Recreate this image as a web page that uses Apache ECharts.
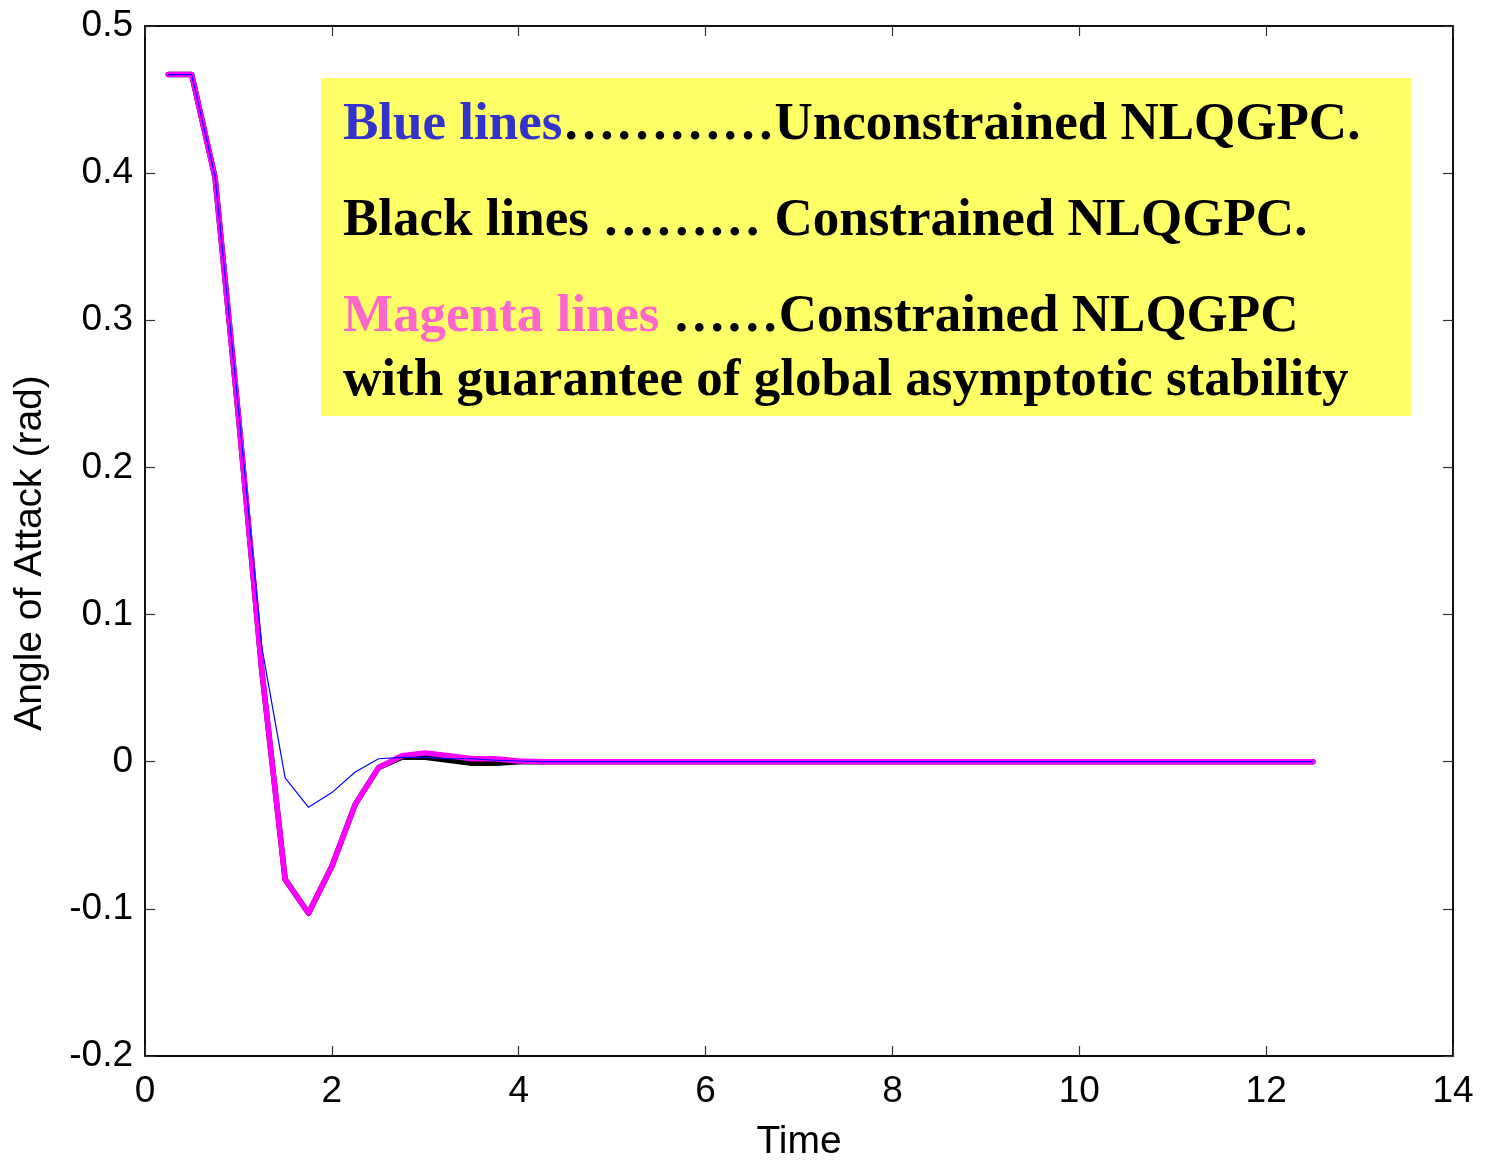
<!DOCTYPE html>
<html>
<head>
<meta charset="utf-8">
<script src="https://cdn.jsdelivr.net/npm/echarts@6/dist/echarts.min.js"></script>
<style>html,body{margin:0;padding:0;background:#fff}#c{width:1489px;height:1162px}</style>
</head>
<body>
<div id="c"></div>
<script>
var time = [0.25,0.5,0.75,1.0,1.25,1.5,1.75,2.0,2.25,2.5,2.75,3.0,3.25,3.5,3.75,4.0,
  4.25,4.5,4.75,5.0,5.25,5.5,5.75,6.0,6.25,6.5,6.75,7.0,7.25,7.5,7.75,8.0,
  8.25,8.5,8.75,9.0,9.25,9.5,9.75,10.0,10.25,10.5,10.75,11.0,11.25,11.5,11.75,12.0,12.25,12.5];
var blueUnconstrained = [0.467,0.467,0.398,0.240,0.078,-0.011,-0.031,-0.021,-0.007,0.002,0.003,0.003,0.002,0.002,0.001,0.0005,
  0,0,0,0,0,0,0,0,0,0,0,0,0,0,0,0,0,0,0,0,0,0,0,0,0,0,0,0,0,0,0,0,0,0];
var blackConstrained = [0.467,0.467,0.397,0.235,0.062,-0.080,-0.103,-0.071,-0.029,-0.004,0.003,0.003,0.001,-0.001,-0.001,0.0,
  0,0,0,0,0,0,0,0,0,0,0,0,0,0,0,0,0,0,0,0,0,0,0,0,0,0,0,0,0,0,0,0,0,0];
var magentaStable = [0.467,0.467,0.397,0.235,0.062,-0.080,-0.103,-0.071,-0.029,-0.004,0.004,0.006,0.004,0.002,0.002,0.0005,
  0,0,0,0,0,0,0,0,0,0,0,0,0,0,0,0,0,0,0,0,0,0,0,0,0,0,0,0,0,0,0,0,0,0];
var xTicks = {min:0, max:14, interval:2};
var yTicks = {min:-0.2, max:0.5, interval:0.1};

function pairs(v){ return time.map(function(t,i){ return [t, v[i]]; }); }

var chart = echarts.init(document.getElementById('c'), null, {renderer:'canvas'});
var axisFont = {fontFamily:'Liberation Sans, Arial, sans-serif', fontSize:37, color:'#000'};
var nameFont = {fontFamily:'Liberation Sans, Arial, sans-serif', fontSize:39, color:'#000'};
var lineC = {onZero:false, lineStyle:{color:'#000', width:1.5}};
var tickC = {inside:true, length:10, lineStyle:{color:'#333', width:1.2}};
var serif = 'Liberation Serif, Times New Roman, serif';
var FS = 53;
function rs(c){ return {fontFamily:serif, fontWeight:'bold', fontSize:FS, fill:c, color:c}; }
chart.setOption({
  animation:false,
  backgroundColor:'#fff',
  grid:{left:145, right:36, top:26, bottom:106, show:true, borderColor:'#000', borderWidth:1.5,
        containLabel:false, outerBoundsMode:'none'},
  xAxis:[{
    type:'value', min:xTicks.min, max:xTicks.max, interval:xTicks.interval,
    name:'Time', nameLocation:'middle', nameGap:67,
    nameTextStyle:nameFont,
    axisLine:lineC, axisTick:tickC, splitLine:{show:false},
    axisLabel:Object.assign({margin:17}, axisFont)
  },{
    type:'value', position:'top', min:xTicks.min, max:xTicks.max, interval:xTicks.interval,
    axisLine:lineC, axisTick:tickC, splitLine:{show:false}, axisLabel:{show:false}
  }],
  yAxis:[{
    type:'value', min:yTicks.min, max:yTicks.max, interval:yTicks.interval,
    name:'Angle of Attack (rad)', nameLocation:'middle', nameGap:95,
    nameTextStyle:Object.assign({padding:[0,24,0,0]}, nameFont),
    axisLine:lineC, axisTick:tickC, splitLine:{show:false},
    axisLabel:Object.assign({margin:12}, axisFont)
  },{
    type:'value', position:'right', min:yTicks.min, max:yTicks.max, interval:yTicks.interval,
    axisLine:lineC, axisTick:tickC, splitLine:{show:false}, axisLabel:{show:false}
  }],
  series:[
    {type:'line', name:'Black', data:pairs(blackConstrained), showSymbol:false, symbol:'none',
     lineStyle:{color:'#000', width:5.5, cap:'round', join:'round'}, z:2},
    {type:'line', name:'Magenta', data:pairs(magentaStable), showSymbol:false, symbol:'none',
     lineStyle:{color:'#ff00ff', width:5.5, cap:'round', join:'round'}, z:3},
    {type:'line', name:'Blue', data:pairs(blueUnconstrained), showSymbol:false, symbol:'none',
     lineStyle:{color:'#0000ff', width:1.2, cap:'round', join:'round'}, z:4}
  ],
  graphic:[{
    type:'group', left:321, top:78, z:100,
    children:[
      {type:'rect', shape:{x:0, y:0, width:1090, height:338}, style:{fill:'#ffff66'}},
      {type:'text', x:22, y:74, style:{
        text:'{b|Blue lines}{k|…………Unconstrained NLQGPC.}',
        textVerticalAlign:'bottom',
        rich:{b:rs('#3333cc'), k:rs('#000')}}},
      {type:'text', x:22, y:170, style:{
        text:'{k|Black lines ……… Constrained NLQGPC.}',
        textVerticalAlign:'bottom',
        rich:{k:rs('#000')}}},
      {type:'text', x:22, y:266, style:{
        text:'{m|Magenta lines }{k|……Constrained NLQGPC}',
        textVerticalAlign:'bottom',
        rich:{m:rs('#ff66cc'), k:rs('#000')}}},
      {type:'text', x:22, y:330, style:{
        text:'{k|with guarantee of global asymptotic stability}',
        textVerticalAlign:'bottom',
        rich:{k:rs('#000')}}}
    ]
  }]
});
</script>
</body>
</html>
